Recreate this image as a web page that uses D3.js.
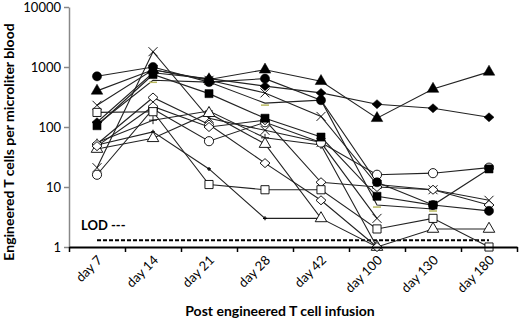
<!DOCTYPE html>
<html>
<head>
<meta charset="utf-8">
<script src="https://cdn.jsdelivr.net/npm/d3@7"></script>
<style>
  body { margin: 0; background: #fff; }
  svg { font-family: Lato, "Open Sans", sans-serif; }
</style>
</head>
<body>
<svg id="chart" width="520" height="321"></svg>
<script>
// categories
let days = ["day 7", "day 14", "day 21", "day 28", "day 42", "day 100", "day 130", "day 180"];
let yTicks = [1, 10, 100, 1000, 10000];
let lodValue = 1.3;

// one array per patient (null = no sample)
let ptFilledTriangle = [400, 900, 620, 900, 580, 140, 430, 830];
let ptFilledDiamond = [120, 800, 640, 480, 370, 240, 205, 145];
let ptFilledCircle = [700, 1000, 560, 640, 280, 12, 5, 4];
let ptFilledSquare = [105, 750, 360, 140, 68, 7, 5, 20];
let ptDash = [110, 600, 560, 250, 280, 5, 4.3, null];
let ptCrossA = [230, 900, 600, 370, 150, 11, 9, 6];
let ptCrossB = [21, 1800, 140, 88, 55, 3, null, null];
let ptOpenSquare = [175, 180, 11, 9, 9, 2, 3, 1];
let ptOpenDiamondA = [52, 310, 110, 25, 6, 1, null, null];
let ptOpenDiamondB = [48, 220, 100, 130, 12, 10, 9, 5];
let ptOpenTriangle = [43, 65, 170, 52, 3, 1, 2, 2];
let ptOpenCircle = [16, 200, 58, 120, 55, 16, 17, 21];
let ptSmallPlus = [50, 83, 20, 3, 3, null, null, null];
let ptPlus = [55, 130, 185, 66, 50, 1, null, null];

// drawing order: crosses, then open marks, filled ones on top
let series = [
  {vals: ptCrossA, mark: "x"},
  {vals: ptCrossB, mark: "x"},
  {vals: ptSmallPlus, mark: "smallplus"},
  {vals: ptPlus, mark: "plus"},
  {vals: ptOpenCircle, mark: "circle", fill: false},
  {vals: ptOpenTriangle, mark: "triangle", fill: false},
  {vals: ptOpenDiamondA, mark: "diamond", fill: false},
  {vals: ptOpenDiamondB, mark: "diamond", fill: false},
  {vals: ptOpenSquare, mark: "square", fill: false},
  {vals: ptDash, mark: "dash"},
  {vals: ptFilledTriangle, mark: "triangle", fill: true},
  {vals: ptFilledDiamond, mark: "diamond", fill: true},
  {vals: ptFilledCircle, mark: "circle", fill: true},
  {vals: ptFilledSquare, mark: "square", fill: true}
];

let svg = d3.select("#chart");
let plotLeft = 69, plotRight = 517, plotTop = 7, plotBottom = 247;

let x = d3.scaleBand().domain(days).range([plotLeft, plotRight]).padding(0);
let y = d3.scaleLog().domain([1, 10000]).range([plotBottom, plotTop]);
let cx = d => x(d) + x.bandwidth() / 2;

// y axis (gray line, black labels)
let yAxis = svg.append("g")
  .attr("transform", "translate(" + plotLeft + ",0)")
  .call(d3.axisLeft(y).tickValues(yTicks).tickFormat(d3.format("d")).tickSize(5).tickSizeOuter(0));
yAxis.select(".domain").attr("stroke", "#888").attr("stroke-width", 1.5);
yAxis.selectAll(".tick line").attr("stroke", "#888").attr("stroke-width", 1.5);
yAxis.selectAll("text").attr("font-size", 13).attr("fill", "#000").attr("font-family", "Lato, sans-serif");

// LOD line
svg.append("line")
  .attr("x1", cx(days[0])).attr("x2", cx(days[days.length - 1]))
  .attr("y1", y(lodValue)).attr("y2", y(lodValue))
  .attr("stroke", "#000").attr("stroke-width", 2).attr("stroke-dasharray", "4,2");
svg.append("text").attr("x", 81).attr("y", 230)
  .attr("font-size", 13).attr("font-weight", "bold").text("LOD ---");

// lines
let lineGen = d3.line()
  .defined(d => d.v != null)
  .x(d => cx(d.day))
  .y(d => y(d.v));

series.forEach(s => {
  let pts = days.map((d, i) => ({day: d, v: s.vals[i]}));
  svg.append("path")
    .datum(pts)
    .attr("d", lineGen)
    .attr("fill", "none")
    .attr("stroke", "#222")
    .attr("stroke-width", 1.1);
});

// markers
let symTypes = {circle: d3.symbolCircle, square: d3.symbolSquare, triangle: d3.symbolTriangle};
let symSizes = {circle: 66, square: 66, triangle: 58};

series.forEach(s => {
  let pts = days.map((d, i) => ({day: d, v: s.vals[i]})).filter(p => p.v != null);
  let g = svg.append("g");
  pts.forEach(p => {
    let px = cx(p.day), py = y(p.v);
    let tr = "translate(" + px + "," + py + ")";
    if (symTypes[s.mark]) {
      g.append("path")
        .attr("d", d3.symbol().type(symTypes[s.mark]).size(symSizes[s.mark])())
        .attr("transform", tr)
        .attr("fill", s.fill ? "#000" : "#fff")
        .attr("stroke", "#000")
        .attr("stroke-width", s.fill ? 0.5 : 0.9);
    } else if (s.mark == "diamond") {
      g.append("path")
        .attr("d", "M0,-4.5L5,0L0,4.5L-5,0Z")
        .attr("transform", tr)
        .attr("fill", s.fill ? "#000" : "#fff")
        .attr("stroke", "#000")
        .attr("stroke-width", s.fill ? 0.5 : 0.9);
    } else if (s.mark == "x") {
      g.append("path")
        .attr("d", "M-4.5,-4.5L4.5,4.5M-4.5,4.5L4.5,-4.5")
        .attr("transform", tr)
        .attr("stroke", "#000").attr("stroke-width", 0.9);
    } else if (s.mark == "plus") {
      g.append("path")
        .attr("d", "M-4,0L4,0M0,-4L0,4")
        .attr("transform", tr)
        .attr("stroke", "#000").attr("stroke-width", 0.9);
    } else if (s.mark == "smallplus") {
      g.append("path")
        .attr("d", "M-2,0L2,0M0,-2L0,2")
        .attr("transform", tr)
        .attr("stroke", "#000").attr("stroke-width", 1.2);
    } else if (s.mark == "dash") {
      g.append("path")
        .attr("d", "M-4,2L4,2")
        .attr("transform", tr)
        .attr("stroke", "#b8b860").attr("stroke-width", 1.5);
    }
  });
});

// x axis: thick black line, ticks at category boundaries
let xb = d3.scaleLinear().domain([0, days.length]).range([plotLeft, plotRight]);
let xAxis = svg.append("g")
  .attr("transform", "translate(0," + plotBottom + ")")
  .call(d3.axisBottom(xb).ticks(days.length).tickFormat("").tickSize(5).tickSizeOuter(0));
xAxis.select(".domain").attr("stroke", "#000").attr("stroke-width", 2);
xAxis.selectAll(".tick line").attr("stroke", "#000").attr("stroke-width", 1.5);

// rotated category labels
svg.selectAll(".daylabel")
  .data(days)
  .enter().append("text")
  .attr("class", "daylabel")
  .attr("text-anchor", "end")
  .attr("font-size", 13)
  .attr("transform", d => "translate(" + (cx(d) + 6) + "," + (plotBottom + 14) + ") rotate(-45)")
  .text(d => d);

// axis titles
svg.append("text")
  .attr("x", 280).attr("y", 316)
  .attr("text-anchor", "middle")
  .attr("font-size", 14).attr("font-weight", "bold")
  .text("Post engineered T cell infusion");

svg.append("text")
  .attr("transform", "translate(14,142) rotate(-90)")
  .attr("text-anchor", "middle")
  .attr("font-size", 14).attr("font-weight", "bold")
  .text("Engineered T cells per microliter blood");
</script>
</body>
</html>
